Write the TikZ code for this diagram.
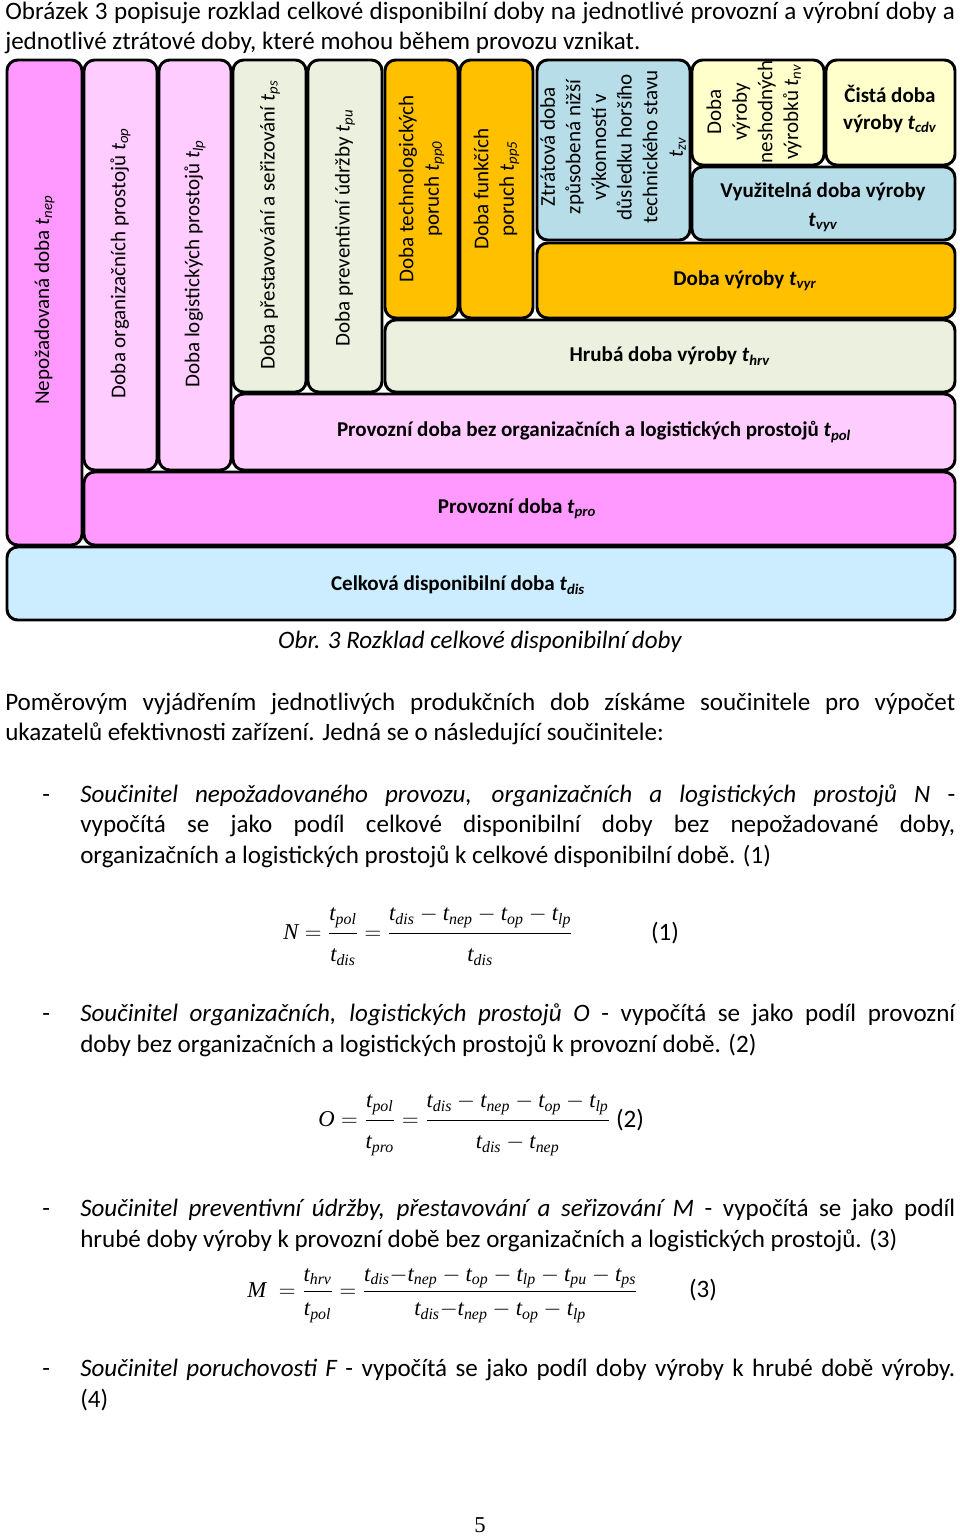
\documentclass[tikz,border=0pt]{standalone}
\usepackage{fontspec}
\usepackage{amsmath}
\usepackage{graphicx}
\setmainfont{Carlito}
\newfontfamily\tnr{Liberation Serif}
\definecolor{cMag}{HTML}{FF99FF}
\definecolor{cPink}{HTML}{FFCCFF}
\definecolor{cGreen}{HTML}{EBF1DE}
\definecolor{cGold}{HTML}{FFC000}
\definecolor{cBlue}{HTML}{B7DDE8}
\definecolor{cYel}{HTML}{FFFFCC}
\definecolor{cSky}{HTML}{CCECFF}
\newcommand\ts[1]{\textit{t}\textsubscript{\textit{#1}}}
\newcommand\tv[1]{\text{\tnr\itshape t}_{\text{\tnr\itshape #1}}}
\newcommand\vv[1]{\text{\tnr\itshape #1}}
\newcommand\fnum[1]{#1\rule[-7pt]{0pt}{0pt}}
\newcommand\fden[1]{\rule{0pt}{19pt}#1}
\newcommand\gnum[1]{#1\rule[-3pt]{0pt}{0pt}}
\newcommand\gden[1]{\rule{0pt}{16pt}#1}
\newcommand\jl[1]{\makebox[712.5pt][s]{#1}}
\newcommand\jm[1]{\makebox[656.25pt][s]{#1}}
\begin{document}
\begin{tikzpicture}[x=0.75pt,y=-0.75pt,
  box/.style={draw=black, line width=2.2pt, rounded corners=8pt},
  vlab/.style={rotate=90, font={\fontsize{15.8}{19.2}\selectfont}, align=center, inner sep=0},
  hlab/.style={font={\fontsize{15.8}{21}\selectfont\bfseries}, align=center, inner sep=0},
  txt/.style={anchor=base west, inner sep=0, font={\fontsize{18.8}{22}\selectfont}},
  fml/.style={anchor=base west, inner sep=0, font={\fontsize{17}{20}\selectfont}}]
\fill[white] (0,0) rectangle (960,1536);
\useasboundingbox (0,0) rectangle (960,1536);

% ---- diagram ----
\draw[box,fill=cMag] (7,60) rectangle (82,545);
\node[vlab] (nep) at (44.5,300) {Nepožadovaná doba \ts{nep}};
\draw[box,fill=cPink] (84,60) rectangle (157,470);
\node[vlab] (op) at (120.5,263) {Doba organizačních prostojů \ts{op}};
\draw[box,fill=cPink] (159,60) rectangle (231,470);
\node[vlab] (lp) at (195,264) {Doba logistických prostojů \ts{lp}};
\draw[box,fill=cGreen] (233,60) rectangle (306,392);
\node[vlab] (ps) at (270,225) {Doba přestavování a seřizování \ts{ps}};
\draw[box,fill=cGreen] (308,60) rectangle (382,392);
\node[vlab] (pu) at (345,228) {Doba preventivní údržby \ts{pu}};
\draw[box,fill=cGold] (385,60) rectangle (458,318);
\node[vlab] (pp0) at (421.5,189) {Doba technologických\\poruch \ts{pp0}};
\draw[box,fill=cGold] (460,60) rectangle (533,318);
\node[vlab] (pp5) at (496.5,189) {Doba funkčích\\poruch \ts{pp5}};
\draw[box,fill=cBlue] (537,60) rectangle (690,240);
\node[vlab] (zv) at (613,147) {Ztrátová doba\\způsobená nižší\\výkonností v\\důsledku horšího\\technického stavu\\\ts{zv}};
\draw[box,fill=cYel] (692,60) rectangle (824,165);
\node[vlab] (nv) at (754,112) {Doba\\výroby\\neshodných\\výrobků \ts{nv}};
\draw[box,fill=cYel] (826,60) rectangle (955,165);
\node[hlab, font={\fontsize{15.8}{20}\selectfont\bfseries}] (cdv) at (890,109) {Čistá doba\\výroby \ts{cdv}};
\draw[box,fill=cBlue] (692,167) rectangle (955,240);
\node[hlab, font={\fontsize{15.8}{22}\selectfont\bfseries}] (vyv) at (823,207) {Využitelná doba výroby\\\ts{vyv}};
\draw[box,fill=cGold] (537,243) rectangle (955,318);
\node[hlab] (vyr) at (745,281) {Doba výroby \ts{vyr}};
\draw[box,fill=cGreen] (385,320) rectangle (955,392);
\node[hlab] (hrv) at (670,356) {Hrubá doba výroby \ts{hrv}};
\draw[box,fill=cPink] (233,394) rectangle (955,470);
\node[hlab] (pol) at (594,432) {Provozní doba bez organizačních a logistických prostojů \ts{pol}};
\draw[box,fill=cMag] (84,472) rectangle (955,545);
\node[hlab] (pro) at (517,509) {Provozní doba \ts{pro}};
\draw[box,fill=cSky] (7,547) rectangle (955,620);
\node[hlab] (dis) at (458,585) {Celková disponibilní doba \ts{dis}};

% ---- text ----
\node[txt] (l1) at (5,19) {\jl{Obrázek 3 popisuje rozklad celkové disponibilní doby na jednotlivé provozní a výrobní doby a}};
\node[txt] (l2) at (5,49) {jednotlivé ztrátové doby, které mohou během provozu vznikat.};
\node[txt, anchor=base, font={\fontsize{18.8}{22}\selectfont\itshape}] (cap) at (480,648) {Obr. 3 Rozklad celkové disponibilní doby};
\node[txt] (p1) at (5,710) {\jl{Poměrovým vyjádřením jednotlivých produkčních dob získáme součinitele pro výpočet}};
\node[txt] (p2) at (5,740) {ukazatelů efektivnosti zařízení. Jedná se o následující součinitele:};

\node[txt] (d1) at (42,802) {-};
\node[txt] (b1a) at (80,802) {\jm{\itshape Součinitel nepožadovaného provozu, organizačních a logistických prostojů N \upshape -}};
\node[txt] (b1b) at (80,832) {\jm{vypočítá se jako podíl celkové disponibilní doby bez nepožadované doby,}};
\node[txt] (b1c) at (80,863) {organizačních a logistických prostojů k celkové disponibilní době. (1)};

\node[fml] (f1) at (283,939) {$\displaystyle \vv{N}=\frac{\fnum{\tv{pol}}}{\fden{\tv{dis}}}=\frac{\fnum{\tv{dis}-\tv{nep}-\tv{op}-\tv{lp}}}{\fden{\tv{dis}}}$};
\node[txt, anchor=center] (e1) at (665,933) {(1)};

\node[txt] (d2) at (42,1021) {-};
\node[txt] (b2a) at (80,1021) {\jm{\itshape Součinitel organizačních, logistických prostojů O \upshape - vypočítá se jako podíl provozní}};
\node[txt] (b2b) at (80,1052) {doby bez organizačních a logistických prostojů k provozní době. (2)};

\node[fml] (f2) at (318,1126) {$\displaystyle \vv{O}=\frac{\fnum{\tv{pol}}}{\fden{\tv{pro}}}=\frac{\fnum{\tv{dis}-\tv{nep}-\tv{op}-\tv{lp}}}{\fden{\tv{dis}-\tv{nep}}}$};
\node[txt, anchor=center] (e2) at (630,1120) {(2)};

\node[txt] (d3) at (42,1216) {-};
\node[txt] (b3a) at (80,1216) {\jm{\itshape Součinitel preventivní údržby, přestavování a seřizování M \upshape - vypočítá se jako podíl}};
\node[txt] (b3b) at (80,1247) {hrubé doby výroby k provozní době bez organizačních a logistických prostojů. (3)};

\node[fml] (f3) at (247,1297) {$\displaystyle \vv{M}\;=\frac{\gnum{\tv{hrv}}}{\gden{\tv{pol}}}=\frac{\gnum{\tv{dis}{-}\tv{nep}-\tv{op}-\tv{lp}-\tv{pu}-\tv{ps}}}{\gden{\tv{dis}{-}\tv{nep}-\tv{op}-\tv{lp}}}$};
\node[txt, anchor=center] (e3) at (703,1290) {(3)};

\node[txt] (d4) at (42,1376) {-};
\node[txt] (b4a) at (80,1376) {\jm{\itshape Součinitel poruchovosti F \upshape - vypočítá se jako podíl doby výroby k hrubé době výroby.}};
\node[txt] (b4b) at (80,1407) {(4)};

\node[inner sep=0, font={\tnr\fontsize{17}{20}\selectfont}] (pg) at (480,1525) {5};
\end{tikzpicture}
\end{document}
